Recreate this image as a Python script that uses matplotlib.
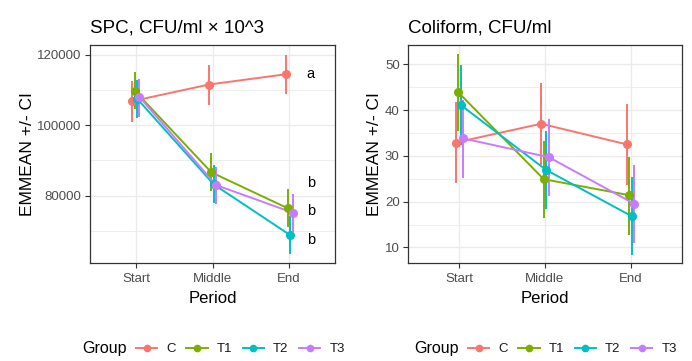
import matplotlib
matplotlib.use('Agg')
import matplotlib.pyplot as plt
from matplotlib.lines import Line2D
from matplotlib.ticker import FixedLocator

plt.rcParams['font.family'] = ['Liberation Sans', 'DejaVu Sans']

periods = ['Start', 'Middle', 'End']
groups = ['C', 'T1', 'T2', 'T3']
colors = ['#F8766D', '#7CAE00', '#00BFC4', '#C77CFF']

# SPC, CFU/ml x 10^3
spc_C = [106800, 111500, 114400]
spc_C_lo = [101000, 105700, 108700]
spc_C_hi = [112500, 117000, 120000]
spc_T1 = [109700, 86600, 76400]
spc_T1_lo = [104500, 81300, 71100]
spc_T1_hi = [115100, 92000, 81800]
spc_T2 = [107500, 83200, 68800]
spc_T2_lo = [102100, 77800, 63400]
spc_T2_hi = [112900, 88700, 74200]
spc_T3 = [108000, 83000, 75200]
spc_T3_lo = [102200, 77600, 69800]
spc_T3_hi = [113000, 88200, 80400]
spc_letters = ['a', 'b', 'b', 'b']
spc_letter_y = [114400, 83500, 75700, 67400]

# Coliform, CFU/ml
col_C = [32.9, 37.0, 32.5]
col_C_lo = [24.1, 28.0, 23.6]
col_C_hi = [41.8, 45.8, 41.3]
col_T1 = [43.9, 24.9, 21.4]
col_T1_lo = [35.5, 16.5, 12.8]
col_T1_hi = [52.2, 33.2, 29.8]
col_T2 = [41.1, 26.9, 16.8]
col_T2_lo = [32.4, 18.5, 8.3]
col_T2_hi = [49.8, 35.5, 25.4]
col_T3 = [33.8, 29.7, 19.5]
col_T3_lo = [25.2, 21.2, 11.0]
col_T3_hi = [42.2, 38.0, 28.0]

spc_series = [(spc_C, spc_C_lo, spc_C_hi), (spc_T1, spc_T1_lo, spc_T1_hi),
              (spc_T2, spc_T2_lo, spc_T2_hi), (spc_T3, spc_T3_lo, spc_T3_hi)]
col_series = [(col_C, col_C_lo, col_C_hi), (col_T1, col_T1_lo, col_T1_hi),
              (col_T2, col_T2_lo, col_T2_hi), (col_T3, col_T3_lo, col_T3_hi)]

W, H = 692, 361
fig = plt.figure(figsize=(W / 100, H / 100), dpi=100)

def px_axes(x0, y0, x1, y1):
    return fig.add_axes([x0 / W, 1 - y1 / H, (x1 - x0) / W, (y1 - y0) / H])

ax1 = px_axes(90, 45, 335, 263)
ax2 = px_axes(408, 45, 682, 263)

dodge = [-0.045, -0.015, 0.015, 0.045]
xs = [1, 2, 3]

def draw(ax, series, ylim, major, minor, title):
    ax.set_xlim(0.4, 3.6)
    ax.set_ylim(*ylim)
    ax.yaxis.set_major_locator(FixedLocator(major))
    ax.yaxis.set_minor_locator(FixedLocator(minor))
    ax.set_xticks(xs)
    ax.set_xticklabels(periods)
    ax.grid(which='major', color='#EBEBEB', lw=1.0, zorder=0)
    ax.grid(which='minor', axis='y', color='#EBEBEB', lw=0.6, zorder=0)
    ax.set_axisbelow(True)
    for s in ax.spines.values():
        s.set_color('#333333')
        s.set_linewidth(0.9)
    ax.tick_params(which='major', length=3.5, width=0.8, color='#333333',
                   labelsize=9.5, labelcolor='#4D4D4D', pad=2.5)
    ax.tick_params(axis='x', which='major', pad=4)
    ax.tick_params(which='minor', length=0)
    for (m, lo, hi), c, d in zip(series, colors, dodge):
        xx = [x + d for x in xs]
        ax.plot(xx, m, color=c, lw=1.4, zorder=3)
        ax.vlines(xx, lo, hi, color=c, lw=1.4, zorder=3)
        ax.plot(xx, m, 'o', color=c, ms=5.5, zorder=4)
    ax.set_xlabel('Period', fontsize=12, labelpad=4)
    ax.set_ylabel('EMMEAN +/- CI', fontsize=12.5, labelpad=2)
    ax.set_title(title, fontsize=13.5, loc='left', pad=9)

draw(ax1, spc_series, (60900, 122700), [80000, 100000, 120000],
     [70000, 90000, 110000], 'SPC, CFU/ml × 10^3')
draw(ax2, col_series, (6.6, 54.2), [10, 20, 30, 40, 50],
     [15, 25, 35, 45], 'Coliform, CFU/ml')

for lab, y in zip(spc_letters, spc_letter_y):
    ax1.text(3.23, y, lab, fontsize=10.5, color='black', ha='left', va='center', zorder=5)

# legends
handles = [Line2D([0], [0], color=c, lw=1.4, marker='o', ms=4.5) for c in colors]
for gx, lx in [(82, 136), (414, 468)]:
    fig.text(gx / W, 1 - 349 / H, 'Group', fontsize=11.5, ha='left', va='center')
    fig.legend(handles, groups, loc='center left', bbox_to_anchor=(lx / W, 1 - 349 / H),
               ncol=4, frameon=False, fontsize=9.5, handlelength=1.6,
               handletextpad=0.7, columnspacing=0.8, borderpad=0, borderaxespad=0,
               labelcolor='#1A1A1A')

fig.savefig('out.png', dpi=100)
